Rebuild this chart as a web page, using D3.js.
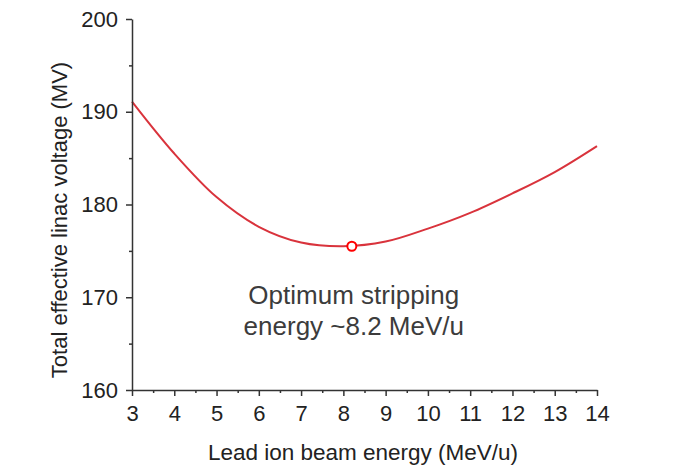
<!DOCTYPE html>
<html>
<head>
<meta charset="utf-8">
<script src="https://cdn.jsdelivr.net/npm/d3@7"></script>
<style>
  body { margin: 0; background: #fff; }
  text { font-family: "Liberation Sans", Arial, sans-serif; }
</style>
</head>
<body>
<script>
// beam energy (MeV/u) and total voltage (MV)
var energy  = [3, 4, 5, 6, 7, 8, 9, 10, 11, 12, 13, 14];
var voltage = [191.1, 185.5, 180.8, 177.6, 175.9, 175.5, 176.0, 177.4, 179.1, 181.2, 183.5, 186.3];
var optimum = {energy: 8.2, voltage: 175.5};
var xTicks = [3, 4, 5, 6, 7, 8, 9, 10, 11, 12, 13, 14];
var yTicks = [160, 170, 180, 190, 200];
var noteLines = ["Optimum stripping", "energy ~8.2 MeV/u"];

var margin = {top: 19, right: 91, bottom: 82, left: 132},
  width = 687 - margin.left - margin.right,
  height = 472 - margin.top - margin.bottom;

var svg = d3.select("body").append("svg")
  .attr("width", 687)
  .attr("height", 472)
  .append("g")
  .attr("transform", "translate(" + margin.left + "," + margin.top + ")");

var x = d3.scaleLinear().range([0, width + 1]).domain([3, 14]);
var y = d3.scaleLinear().range([height, 0]).domain([160, 200]);

var data = energy.map(function(e, i){ return {e: e, v: voltage[i]}; });

var lineFun = d3.line()
  .x(function(d){ return x(d.e); })
  .y(function(d){ return y(d.v); })
  .curve(d3.curveCatmullRom);

svg.append("path")
  .datum(data)
  .attr("d", lineFun)
  .attr("fill", "none")
  .attr("stroke", "#d9333c")
  .attr("stroke-width", 2);

// minor ticks
svg.append("g")
  .attr("transform", "translate(0," + height + ")")
  .call(d3.axisBottom(x).tickValues(d3.range(3.5, 14, 1)).tickSize(3).tickFormat(""))
  .call(function(g){ g.select(".domain").remove(); });
svg.append("g")
  .call(d3.axisLeft(y).tickValues([165, 175, 185, 195]).tickSize(3).tickFormat(""))
  .call(function(g){ g.select(".domain").remove(); });

// Add the X Axis
svg.append("g")
  .attr("transform", "translate(0," + height + ")")
  .call(d3.axisBottom(x).tickValues(xTicks).tickSize(6).tickSizeOuter(0).tickPadding(9));

// Add the Y Axis
svg.append("g")
  .call(d3.axisLeft(y).tickValues(yTicks).tickSize(6).tickSizeOuter(0).tickPadding(8));

svg.selectAll(".tick line, .domain")
  .attr("stroke", "#333")
  .attr("stroke-width", 1.5);
svg.selectAll(".tick text")
  .attr("font-size", 22)
  .attr("fill", "#222");

svg.append("circle")
  .attr("cx", x(optimum.energy))
  .attr("cy", y(optimum.voltage))
  .attr("r", 4.5)
  .attr("fill", "#fff")
  .attr("stroke", "#f00")
  .attr("stroke-width", 2);

svg.append("text")
  .attr("x", x(8.2) + 2)
  .attr("y", 304 - margin.top)
  .attr("text-anchor", "middle")
  .attr("font-size", 26)
  .attr("fill", "#3c3c3c")
  .selectAll("tspan")
  .data(noteLines)
  .enter().append("tspan")
  .attr("x", x(8.2) + 2)
  .attr("dy", function(d, i){ return i ? 31 : 0; })
  .text(function(d){ return d; });

svg.append("text")
  .attr("x", (203 + 523) / 2 - margin.left)
  .attr("y", height + 70)
  .attr("text-anchor", "middle")
  .attr("font-size", 22.5)
  .attr("fill", "#222")
  .text("Lead ion beam energy (MeV/u)");

svg.append("text")
  .attr("transform", "translate(-65," + (220 - margin.top) + ") rotate(-90)")
  .attr("text-anchor", "middle")
  .attr("font-size", 22)
  .attr("fill", "#222")
  .text("Total effective linac voltage (MV)");
</script>
</body>
</html>
